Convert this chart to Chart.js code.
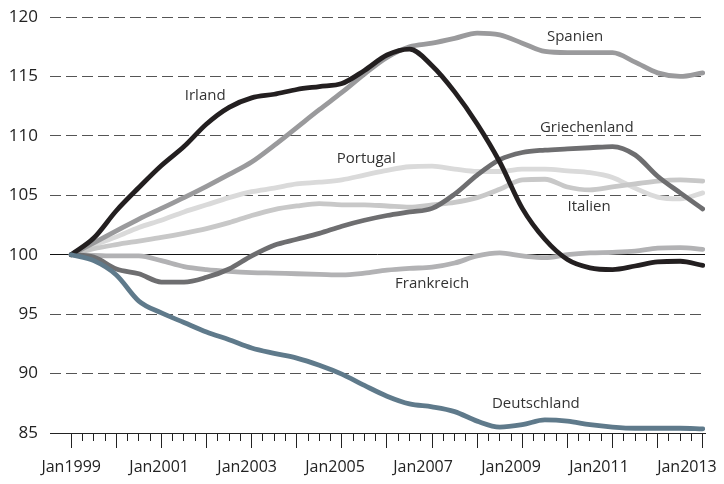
<!DOCTYPE html>
<html>
<head>
<meta charset="utf-8">
<style>
  html, body { margin: 0; padding: 0; background: #fff; }
  #chart { display: block; }
</style>
</head>
<body>
<canvas id="chart" width="724" height="484"></canvas>
<script src="https://cdn.jsdelivr.net/npm/chart.js@4"></script>
<script>
// Zeitpunkte (Halbjahre, Jan1999 = 100)
const years = [
  1999, 1999.5, 2000, 2000.5, 2001, 2001.5, 2002, 2002.5, 2003, 2003.5,
  2004, 2004.5, 2005, 2005.5, 2006, 2006.5, 2007, 2007.5, 2008, 2008.5,
  2009, 2009.5, 2010, 2010.5, 2011, 2011.5, 2012, 2012.5, 2013,
];

const deutschland = [
  100, 99.5, 98.3, 96.1, 95.1, 94.3, 93.5, 92.85, 92.15, 91.7,
  91.3, 90.7, 89.95, 89.0, 88.1, 87.45, 87.2, 86.8, 86.0, 85.5,
  85.7, 86.1, 86.0, 85.7, 85.5, 85.4, 85.4, 85.4, 85.35,
];
const irland = [
  100, 101.4, 103.7, 105.65, 107.5, 109.1, 111.0, 112.4, 113.2, 113.5,
  113.9, 114.15, 114.4, 115.5, 116.8, 117.3, 115.9, 113.7, 111.0, 107.8,
  103.9, 101.3, 99.6, 98.9, 98.75, 99.05, 99.4, 99.45, 99.1,
];
const griechenland = [
  100, 99.8, 98.8, 98.4, 97.7, 97.7, 98.1, 98.8, 99.9, 100.8,
  101.3, 101.8, 102.4, 102.9, 103.3, 103.6, 103.9, 105.1, 106.7, 108.0,
  108.6, 108.8, 108.9, 109.0, 109.1, 108.4, 106.6, 105.2, 103.85,
];
const spanien = [
  100, 101.0, 102.0, 103.0, 103.9, 104.8, 105.75, 106.75, 107.8, 109.2,
  110.7, 112.2, 113.65, 115.2, 116.6, 117.5, 117.8, 118.2, 118.65, 118.5,
  117.8, 117.1, 117.0, 117.0, 117.0, 116.2, 115.3, 115.0, 115.3,
];
const frankreich = [
  100, 99.95, 99.9, 99.9, 99.5, 99.0, 98.75, 98.6, 98.5, 98.45,
  98.4, 98.35, 98.3, 98.45, 98.7, 98.85, 98.95, 99.3, 99.9, 100.15,
  99.9, 99.75, 100.0, 100.15, 100.2, 100.3, 100.55, 100.6, 100.45,
];
const italien = [
  100, 100.5, 100.85, 101.15, 101.45, 101.8, 102.2, 102.7, 103.3, 103.8,
  104.1, 104.3, 104.2, 104.2, 104.1, 104.0, 104.2, 104.4, 104.8, 105.5,
  106.3, 106.35, 105.7, 105.45, 105.7, 105.95, 106.2, 106.3, 106.2,
];
const portugal = [
  100, 100.8, 101.5, 102.3, 102.9, 103.6, 104.2, 104.8, 105.3, 105.6,
  105.95, 106.1, 106.3, 106.7, 107.1, 107.4, 107.45, 107.2, 107.0, 107.0,
  107.2, 107.2, 107.05, 106.9, 106.5, 105.6, 104.85, 104.7, 105.2,
];

// Beschriftung der Linien (Land, x in Jahren, y-Wert)
const seriesNames = ['Deutschland', 'Irland', 'Griechenland', 'Spanien', 'Frankreich', 'Italien', 'Portugal'];
const seriesLabelX = [2009.3, 2001.97, 2010.43, 2010.17, 2007.0, 2010.48, 2005.54];
const seriesLabelY = [87.5, 113.4, 110.66, 118.3, 97.54, 104.0, 108.05];

// Achsen
const yTicks = [85, 90, 95, 100, 105, 110, 115, 120];
const labelYears = [1999, 2001, 2003, 2005, 2007, 2009, 2011, 2013];
const xMin = 1998.53;
const xMax = 2013.05;

const colors = ['#5f7a8b', '#231f20', '#6e6e70', '#9a9a9c', '#b2b2b4', '#c8c8c8', '#dadada'];
const seriesData = [deutschland, irland, griechenland, spanien, frankreich, italien, portugal];

const datasets = seriesData.map((vals, i) => ({
  label: seriesNames[i],
  data: vals.map((v, j) => ({x: years[j], y: v})),
  borderColor: colors[i],
  borderWidth: 4.8,
  pointRadius: 0,
  fill: false,
  cubicInterpolationMode: 'monotone',
  borderCapStyle: 'round',
}));

const FONT = '"Open Sans", "DejaVu Sans", sans-serif';

const seriesLabels = {
  id: 'seriesLabels',
  afterDatasetsDraw(chart) {
    const {ctx, scales} = chart;
    ctx.save();
    ctx.font = '15px ' + FONT;
    ctx.fillStyle = '#333';
    ctx.textAlign = 'center';
    ctx.textBaseline = 'middle';
    seriesNames.forEach((name, i) => {
      ctx.fillText(name, scales.x.getPixelForValue(seriesLabelX[i]), scales.y.getPixelForValue(seriesLabelY[i]));
    });
    ctx.restore();
  },
};

// Achsen ohne eigene Randabstände
const noPad = (s) => {
  s.paddingLeft = 0;
  s.paddingRight = 0;
  s.paddingTop = 0;
  s.paddingBottom = 0;
};

const ctx = document.getElementById('chart');
new Chart(ctx, {
  type: 'line',
  data: {datasets},
  options: {
    responsive: false,
    animation: false,
    layout: {padding: {top: 17, right: 19, left: 0, bottom: 0}},
    plugins: {legend: {display: false}, tooltip: {enabled: false}},
    scales: {
      // Beschriftung der Jahre
      x: {
        type: 'linear',
        position: 'bottom',
        min: xMin,
        max: xMax,
        afterBuildTicks: (s) => {
          // Beschriftungen im Original leicht gestaucht
          s.ticks = labelYears.map((yr) => ({value: 1999 + (yr - 1999) * 0.975}));
        },
        afterFit: (s) => { s.height = 51; noPad(s); },
        grid: {display: false},
        border: {display: true, color: '#222', width: 1},
        ticks: {
          autoSkip: false,
          maxRotation: 0,
          padding: 17,
          color: '#222',
          font: {family: FONT, size: 16},
          callback: (v, i) => 'Jan' + labelYears[i],
        },
      },
      // lange Striche: Jahre
      xYear: {
        type: 'linear',
        axis: 'x',
        position: {y: 85},
        min: xMin,
        max: xMax,
        afterBuildTicks: (s) => {
          s.ticks = years.filter((y) => y % 1 === 0).map((y) => ({value: y}));
        },
        afterFit: noPad,
        grid: {drawOnChartArea: false, drawTicks: true, tickLength: 15, color: '#222', lineWidth: 1},
        border: {display: false},
        ticks: {display: false},
      },
      // kurze Striche: Quartale
      xQuarter: {
        type: 'linear',
        axis: 'x',
        position: {y: 85},
        min: xMin,
        max: xMax,
        afterBuildTicks: (s) => {
          const t = [];
          for (let q = 1999; q <= 2013; q += 0.25) t.push({value: q});
          s.ticks = t;
        },
        afterFit: noPad,
        grid: {drawOnChartArea: false, drawTicks: true, tickLength: 8, color: '#222', lineWidth: 1},
        border: {display: false},
        ticks: {display: false},
      },
      y: {
        min: 85,
        max: 120,
        afterBuildTicks: (s) => { s.ticks = yTicks.map((v) => ({value: v})); },
        afterFit: (s) => { s.width = 50; noPad(s); },
        grid: {
          color: (c) => (c.tick && (c.tick.value === 85 || c.tick.value === 100) ? 'rgba(0,0,0,0)' : '#555'),
          lineWidth: 1,
          drawTicks: false,
        },
        border: {display: false, dash: [11, 5]},
        ticks: {
          padding: 12,
          color: '#222',
          font: {family: FONT, size: 17},
        },
      },
      // durchgezogene Linie bei 100
      y100: {
        position: 'right',
        min: 85,
        max: 120,
        afterBuildTicks: (s) => { s.ticks = [{value: 100}]; },
        afterFit: (s) => { s.width = 0; noPad(s); },
        grid: {color: '#111', lineWidth: 1, drawTicks: false},
        border: {display: false},
        ticks: {display: false},
      },
    },
  },
  plugins: [seriesLabels],
});
</script>
</body>
</html>
